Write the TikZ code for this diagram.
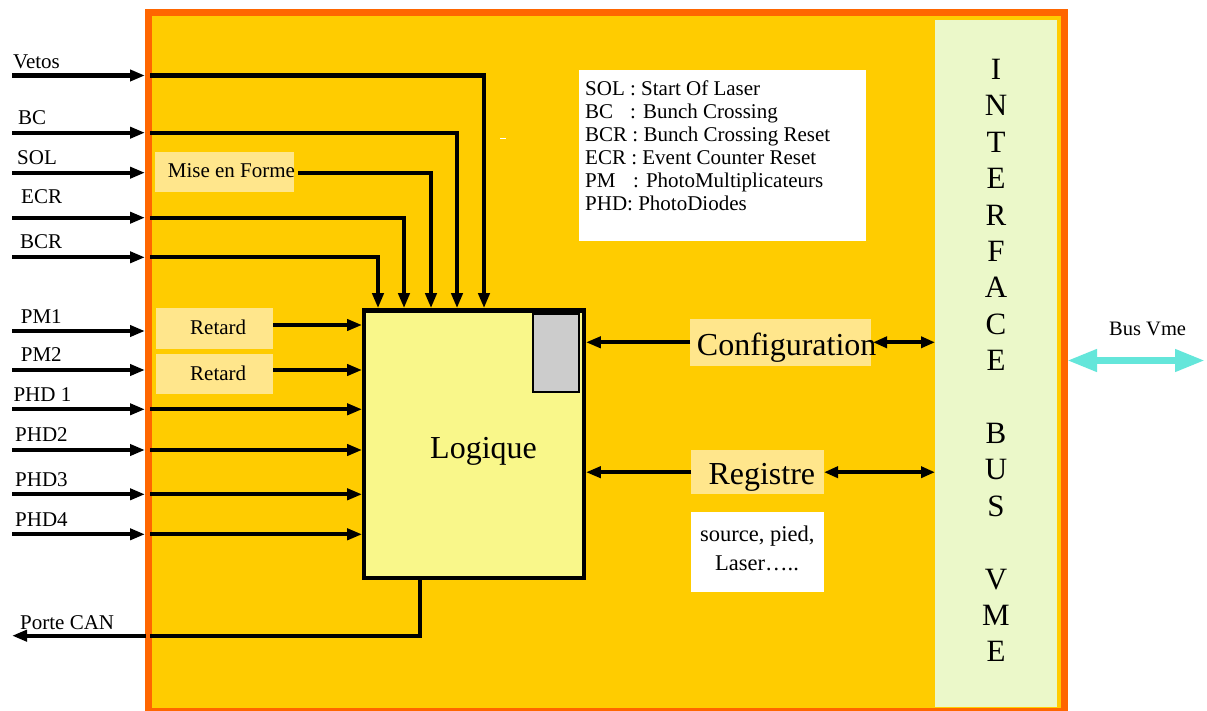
\documentclass[tikz,border=0pt]{standalone}
\usepackage{fontspec}
\setmainfont{Liberation Serif}
\usetikzlibrary{arrows.meta}
\definecolor{borderor}{HTML}{FF6600}
\definecolor{panelyel}{HTML}{FFCC00}
\definecolor{boxyel}{HTML}{FFE68C}
\definecolor{logyel}{HTML}{F9F78A}
\definecolor{ifgreen}{HTML}{EBF8C9}
\definecolor{busc}{HTML}{64E6DA}
\definecolor{greybox}{HTML}{CCCCCC}
\begin{document}
\begin{tikzpicture}[x=1pt,y=-1pt,
  sm/.style={font=\fontsize{21}{23}\selectfont, inner sep=0pt, anchor=base west},
  src/.style={font=\fontsize{22.5}{28}\selectfont, inner sep=0pt, anchor=base west},
  bg/.style={font=\fontsize{32}{36}\selectfont, inner sep=0pt, anchor=base west},
  ltr/.style={font=\fontsize{31}{34}\selectfont, inner sep=0pt, anchor=base},
  pale/.style={fill=boxyel, inner sep=0pt, outer sep=0pt, draw=none},
  wire/.style={line width=4.3pt, line join=miter},
  arr/.style={line width=4.3pt, line join=miter, -{Triangle[length=15pt,width=11pt]}},
  darr/.style={line width=4.3pt, {Triangle[length=14pt,width=11pt]}-{Triangle[length=14pt,width=11pt]}},
  busarr/.style={busc, line width=7pt, {Triangle[length=30pt,width=21pt]}-{Triangle[length=30pt,width=21pt]}},
]
\useasboundingbox (0,0) rectangle (1207,711);
\fill[white] (0,0) rectangle (1207,711);
% main board
\draw[borderor, line width=7pt, fill=panelyel] (148.8,12.8) rectangle (1064.5,711.5);
% interface panel
\node[fill=ifgreen, inner sep=0pt, outer sep=0pt, minimum width=122pt, minimum height=686.5pt] (iface) at (996,363.25) {};
\foreach \ch/\yy [count=\k] in {I/79.5, N/115.9, T/152.3, E/188.7, R/225.1, F/261.5, A/297.9, C/334.3, E/370.7, B/443.5, U/479.9, S/516.3, V/589.1, M/625.5, E/661.9}
  \node[ltr] (if\k) at (996,\yy) {\ch};
% legend
\node[fill=white, inner sep=0pt, outer sep=0pt, minimum width=287pt, minimum height=171pt] (legend) at (722.5,155.5) {};
\node[sm] (leg1) at (585,95.5) {SOL : Start Of Laser};
\node[sm] (leg2) at (585,118.5) {\makebox[45pt][l]{BC}: Bunch Crossing};
\node[sm] (leg3) at (585,141.5) {BCR : Bunch Crossing Reset};
\node[sm] (leg4) at (585,164.5) {ECR : Event Counter Reset};
\node[sm] (leg5) at (585,187.5) {\makebox[48pt][l]{PM}: PhotoMultiplicateurs};
\node[sm] (leg6) at (585,210.5) {PHD: PhotoDiodes};
% pale boxes
\node[pale, minimum width=139pt, minimum height=39.4pt] (mef) at (224.5,172) {};
\node[sm] (mefT) at (167.7,177.7) {Mise en Forme};
\node[pale, minimum width=116.7pt, minimum height=40.7pt] (ret1) at (214.3,328.7) {};
\node[sm] (ret1T) at (190,334) {Retard};
\node[pale, minimum width=116.7pt, minimum height=39.7pt] (ret2) at (214.3,373.8) {};
\node[sm] (ret2T) at (190,380) {Retard};
\node[pale, minimum width=180.7pt, minimum height=46.4pt] (cfg) at (780.3,342.5) {};
\node[bg] (cfgT) at (696.7,355) {Configuration};
\node[pale, minimum width=133pt, minimum height=44.3pt] (reg) at (757.5,472.2) {};
\node[bg] (regT) at (708.3,484) {Registre};
\node[fill=white, inner sep=0pt, outer sep=0pt, minimum width=133pt, minimum height=80pt] (srcbox) at (757.5,551.7) {};
\node[src] (srcT1) at (700,541.7) {source, pied,};
\node[src] (srcT2) at (715,570) {Laser…..};
% logic block
\node[draw, line width=4.3pt, fill=logyel, inner sep=0pt, minimum width=219.4pt, minimum height=267.7pt] (logique) at (474,444.2) {};
\node[draw, line width=2pt, fill=greybox, inner sep=0pt, minimum width=45.7pt, minimum height=77.4pt] (grey) at (556.2,353) {};
\node[bg] (logT) at (430,458.3) {Logique};
% inputs
\foreach \n/\t/\lx/\ly/\wy in {Vetos/Vetos/13/68.3/75.5, BC/BC/18/125/132.7, SOL/SOL/17/164.3/172.7, ECR/ECR/21/204/217.7, BCR/BCR/20/249/257.3, PMa/PM1/20.7/323.3/331, PMb/PM2/20.7/361.7/370, PHDa/PHD 1/13.3/401.7/409.3, PHDb/PHD2/15/441.7/450, PHDc/PHD3/15/486.7/494.3, PHDd/PHD4/15/526/534.3}{
  \node[sm] (lab\n) at (\lx,\ly) {\t};
  \coordinate (s\n) at (12,\wy);
  \coordinate (e\n) at (145,\wy);
  \coordinate (i\n) at (150,\wy);
  \draw[arr] (s\n) -- (e\n);
}
% routes to the top of Logique
\coordinate (xVetos) at (484,0);
\coordinate (xBC) at (457,0);
\coordinate (xSOL) at (431,0);
\coordinate (xECR) at (404,0);
\coordinate (xBCR) at (378,0);
\coordinate (mefO) at (298,173.3);
\draw[arr] (iVetos) -| (logique.north -| xVetos);
\draw[arr] (iBC) -| (logique.north -| xBC);
\draw[arr] (mefO) -| (logique.north -| xSOL);
\draw[arr] (iECR) -| (logique.north -| xECR);
\draw[arr] (iBCR) -| (logique.north -| xBCR);
% routes to the left of Logique
\coordinate (r1o) at (273,325);
\coordinate (r2o) at (273,370);
\draw[arr] (r1o) -- (r1o -| logique.west);
\draw[arr] (r2o) -- (r2o -| logique.west);
\draw[arr] (iPHDa) -- (iPHDa -| logique.west);
\draw[arr] (iPHDb) -- (iPHDb -| logique.west);
\draw[arr] (iPHDc) -- (iPHDc -| logique.west);
\draw[arr] (iPHDd) -- (iPHDd -| logique.west);
% right side
\coordinate (cfgL) at (690,342.3);
\coordinate (cfgR) at (873,342.3);
\draw[arr] (cfgL) -- (cfgL -| logique.east);
\draw[darr] (cfgR) -- (cfgR -| iface.west);
\draw[arr] (reg.west) -- (reg.west -| logique.east);
\draw[darr] (reg.east) -- (reg.east -| iface.west);
% Porte CAN
\coordinate (canC) at (420,635.7);
\coordinate (canI) at (150,635.7);
\coordinate (canO) at (145.6,635.7);
\coordinate (canE) at (12,635.7);
\draw[wire] (logique.south -| canC) -- (canC) -- (canI);
\draw[arr] (canO) -- (canE);
\node[sm] (canL) at (20,629) {Porte CAN};
% Bus Vme
\coordinate (busL) at (1067,360.5);
\coordinate (busR) at (1205,360.5);
\draw[busarr] (busL) -- (busR);
\node[sm, font=\fontsize{20.5}{22}\selectfont] (busT) at (1109,335) {Bus Vme};
% small white mark
\coordinate (dashA) at (500,138.3);
\coordinate (dashB) at (506,138.3);
\draw[white, line width=1.2pt] (dashA) -- (dashB);
\end{tikzpicture}
\end{document}
